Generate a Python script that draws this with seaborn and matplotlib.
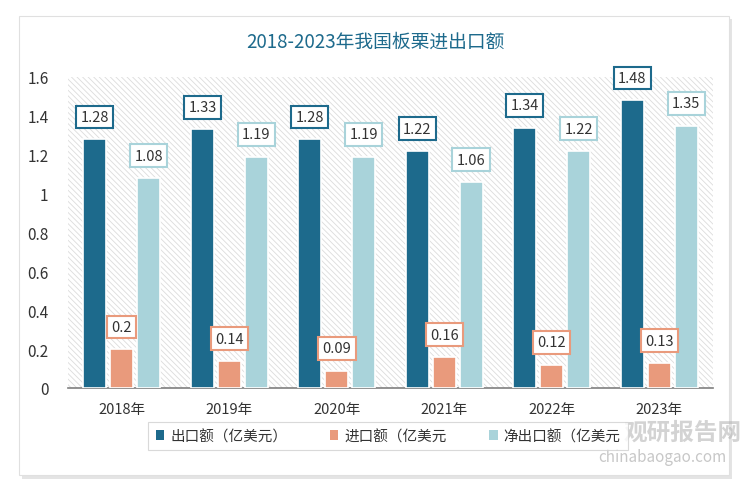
import numpy as np
import pandas as pd
import matplotlib
matplotlib.use('Agg')
import matplotlib.pyplot as plt
import matplotlib.patches as mpatches
import seaborn as sns

YEARS = ['2018年', '2019年', '2020年', '2021年', '2022年', '2023年']
EXPORT = [1.28, 1.33, 1.28, 1.22, 1.34, 1.48]
IMPORT = [0.2, 0.14, 0.09, 0.16, 0.12, 0.13]
NET_EXPORT = [1.08, 1.19, 1.19, 1.06, 1.22, 1.35]
SERIES = ['出口额（亿美元）', '进口额（亿美元', '净出口额（亿美元']
LABELS = ['1.28', '1.33', '1.28', '1.22', '1.34', '1.48',
          '0.2', '0.14', '0.09', '0.16', '0.12', '0.13',
          '1.08', '1.19', '1.19', '1.06', '1.22', '1.35']
COLORS = ['#1D6A8C', '#E99A7C', '#A9D3DA']
Y_TICKS = [0, 0.2, 0.4, 0.6, 0.8, 1, 1.2, 1.4, 1.6]
Y_TICK_LABELS = ['0', '0.2', '0.4', '0.6', '0.8', '1', '1.2', '1.4', '1.6']

sns.set_theme(style='white')
plt.rcParams['font.family'] = ['Noto Sans CJK SC', 'DejaVu Sans']
plt.rcParams['hatch.linewidth'] = 0.6
plt.rcParams['hatch.color'] = '#d9d9d9'

df = pd.DataFrame({
    'year': YEARS * 3,
    'series': [SERIES[0]] * 6 + [SERIES[1]] * 6 + [SERIES[2]] * 6,
    'value': EXPORT + IMPORT + NET_EXPORT,
})

fig = plt.figure(figsize=(7.5, 4.89), dpi=100)
fig.patch.set_facecolor('white')

# outer frame with soft shadow, behind everything
shadow = mpatches.Rectangle((22 / 750, 1 - 480 / 489), 710 / 750, 460 / 489,
                            transform=fig.transFigure, facecolor='#e4e4e4',
                            edgecolor='none', zorder=-3)
frame = mpatches.Rectangle((19 / 750, 1 - 476 / 489), 710 / 750, 459 / 489,
                           transform=fig.transFigure, facecolor='white',
                           edgecolor='#e0e0e0', linewidth=0.8, zorder=-2)
fig.patches.extend([shadow, frame])

ax = fig.add_axes([68 / 750, 1 - 389 / 489, 645 / 750, 311 / 489])
ax.set_facecolor('none')
ax.add_patch(mpatches.Rectangle((0, 0), 1, 1, transform=ax.transAxes,
                                facecolor='white', hatch='\\\\\\\\\\\\',
                                edgecolor='#dcdcdc', linewidth=0, zorder=0))

sns.barplot(data=df, x='year', y='value', hue='series', palette=COLORS,
            saturation=1, width=0.75, gap=0.15, edgecolor='white', linewidth=1.2,
            legend=False, ax=ax, zorder=3)

bars = [p for p in ax.patches if p.get_width() < 0.5]
for i, bar in enumerate(bars):
    color = COLORS[i // 6]
    xc = bar.get_x() + bar.get_width() / 2
    top = bar.get_height()
    ax.annotate(LABELS[i], (xc, top), xytext=(0, 16), textcoords='offset points',
                ha='center', va='center', fontsize=10.5, color='#333333', zorder=5,
                bbox=dict(boxstyle='square,pad=0.3', facecolor='white',
                          edgecolor=color, linewidth=1.5))

ax.set_ylim(0, 1.6)
ax.set_xlim(-0.5, 5.5)
ax.set_yticks(Y_TICKS)
ax.set_yticklabels(Y_TICK_LABELS)
ax.set_xlabel('')
ax.set_ylabel('')
ax.tick_params(axis='y', labelsize=11, colors='#333333', length=0, pad=14)
ax.tick_params(axis='x', labelsize=10.5, colors='#333333', length=0, pad=10)
for side in ['top', 'right', 'left']:
    ax.spines[side].set_visible(False)
ax.spines['bottom'].set_color('#7f7f7f')
ax.spines['bottom'].set_linewidth(1.2)

fig.text(0.5, 1 - 42 / 489, '2018-2023年我国板栗进出口额', ha='center', va='center',
         fontsize=13.5, color='#1D6A8C')

handles = [mpatches.Patch(facecolor=c, edgecolor='none') for c in COLORS]
leg = fig.legend(handles, SERIES, loc='center', bbox_to_anchor=(388 / 750, 1 - 437 / 489),
                 ncol=3, fontsize=10.5, frameon=True, fancybox=False,
                 handlelength=0.6, handleheight=0.6, handletextpad=0.4,
                 columnspacing=2.9, borderpad=0.5)
leg.get_frame().set_edgecolor('#d0d0d0')
leg.get_frame().set_linewidth(0.8)
for t in leg.get_texts():
    t.set_color('#333333')

# watermark
fig.text(683 / 750, 1 - 433 / 489, '观研报告网', ha='center', va='center',
         fontsize=17, fontweight='bold', color='#b0b0b0', alpha=0.55, zorder=-1)
fig.text(662 / 750, 1 - 458 / 489, 'chinabaogao.com', ha='center', va='center',
         fontsize=11, color='#b0b0b0', alpha=0.7)

fig.savefig('out.png', dpi=100)
